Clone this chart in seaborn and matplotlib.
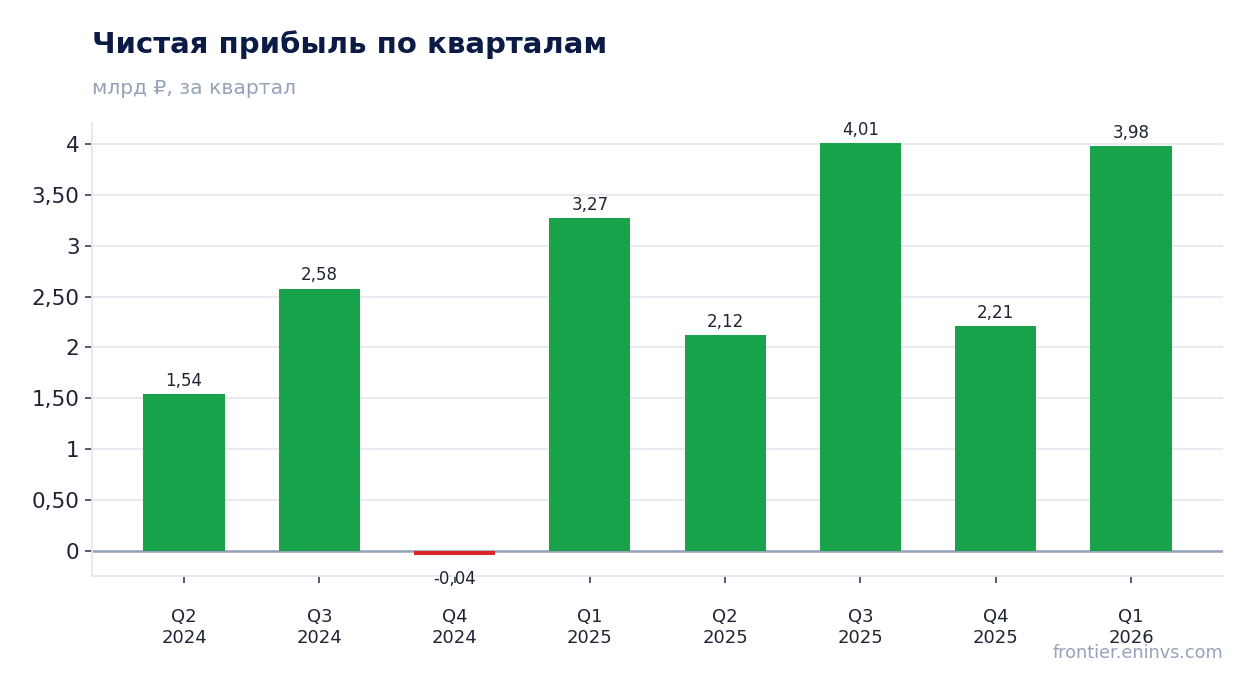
"""Quarterly net profit bar chart (billion RUB per quarter)."""

import matplotlib

matplotlib.use("Agg")

import matplotlib.pyplot as plt
import numpy as np
import pandas as pd
import seaborn as sns
from matplotlib.ticker import FuncFormatter, MultipleLocator

QUARTERS = ["Q2\n2024", "Q3\n2024", "Q4\n2024", "Q1\n2025",
            "Q2\n2025", "Q3\n2025", "Q4\n2025", "Q1\n2026"]
PROFIT = [1.54, 2.58, -0.04, 3.27, 2.12, 4.01, 2.21, 3.98]

TITLE = "Чистая прибыль по кварталам"
SUBTITLE = "млрд ₽, за квартал"
SOURCE = "frontier.eninvs.com"

GREEN = "#18a34a"
RED = "#dc2626"
NAVY = "#0b1b45"
MUTED = "#94a3b8"
GRID = "#e5e9f0"
TEXT = "#1e2433"


def ru_number(value: float, decimals: int = 2) -> str:
    """Comma decimal separator, integers shown without decimals."""
    if abs(value - round(value)) < 1e-9:
        return f"{int(round(value))}"
    return f"{value:.{decimals}f}".replace(".", ",")


def main() -> None:
    sns.set_theme(style="white")
    plt.rcParams["font.family"] = ["DejaVu Sans", "Noto Sans"]

    data = pd.DataFrame({"quarter": QUARTERS, "profit": PROFIT})
    data["sign"] = np.where(data["profit"] < 0, "neg", "pos")

    fig = plt.figure(figsize=(12.54, 6.93), dpi=100)
    ax = fig.add_axes([0.0734, 0.1688, 0.9019, 0.6537])

    sns.barplot(
        data=data, x="quarter", y="profit", hue="sign",
        palette={"pos": GREEN, "neg": RED}, width=0.6,
        legend=False, ax=ax, saturation=1, zorder=3, linewidth=0,
    )

    ax.set_xlim(-0.68, 7.68)
    ax.set_ylim(-0.25, 4.21)
    ax.yaxis.set_major_locator(MultipleLocator(0.5))
    ax.yaxis.set_major_formatter(FuncFormatter(lambda v, _: ru_number(v)))
    ax.set_xlabel("")
    ax.set_ylabel("")

    ax.grid(axis="y", color=GRID, linewidth=1.3, zorder=0)
    ax.set_axisbelow(True)
    ax.axhline(0, color=MUTED, linewidth=1.8, zorder=2.5)

    for side in ("top", "right"):
        ax.spines[side].set_visible(False)
    for side in ("left", "bottom"):
        ax.spines[side].set_color(GRID)
        ax.spines[side].set_linewidth(1.3)

    ax.tick_params(axis="y", labelsize=15.5, colors="#334155", labelcolor=TEXT,
                   length=5, width=1.2, left=True, pad=4)
    ax.tick_params(axis="x", labelsize=13, colors="#334155", labelcolor=TEXT,
                   length=5, width=1.2, bottom=True, pad=18)

    for x, value in enumerate(PROFIT):
        if value >= 0:
            ax.annotate(ru_number(value), (x, value), xytext=(0, 3),
                        textcoords="offset points", ha="center", va="bottom",
                        fontsize=12, color=TEXT, zorder=5)
        else:
            ax.annotate(ru_number(value), (x, value), xytext=(0, -11),
                        textcoords="offset points", ha="center", va="top",
                        fontsize=12, color=TEXT, zorder=5)

    fig.text(0.0734, 0.936, TITLE, fontsize=21, fontweight="bold",
             color=NAVY, ha="left", va="center")
    fig.text(0.0734, 0.873, SUBTITLE, fontsize=14.6, color=MUTED,
             ha="left", va="center")
    fig.text(0.9753, 0.058, SOURCE, fontsize=12.7, color=MUTED,
             ha="right", va="center")

    fig.savefig("out.png", dpi=100)
    plt.close(fig)


if __name__ == "__main__":
    main()
